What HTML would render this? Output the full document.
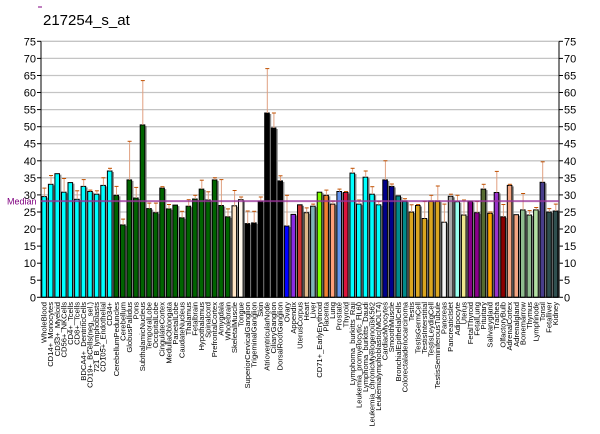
<!DOCTYPE html>
<html><head><meta charset="utf-8"><style>
html,body{margin:0;padding:0;background:#fff;width:600px;height:434px;overflow:hidden}
svg{display:block;font-family:"Liberation Sans",sans-serif}
</style></head><body>
<svg id="c" width="600" height="434" xmlns="http://www.w3.org/2000/svg">
<text x="43" y="25" font-size="15" fill="#000">217254_s_at</text>
<line x1="38" y1="7" x2="42" y2="7" stroke="#800080" stroke-width="1"/>
<g id="g"></g>
</svg>
<script>
var names=["WholeBlood","CD14+_Monocytes","CD33+_Myeloid","CD56+_NKCells","CD4+_Tcells","CD8+_Tcells","BDCA4+_DentriticCells","CD19+_BCells(neg._sel.)","721_B_lymphoblasts","CD105+_Endothelial","CD34+","CerebellumPeduncles","Cerebellum","GlobusPallidus","Pons","SubthalamicNucleus","TemporalLobe","OccipitalLobe","CingulateCortex","MedullaOblongata","ParietalLobe","CaudateNucleus","Thalamus","Fetalbrain","Hypothalamus","Spinalcord","PrefrontalCortex","Amygdala","Wholebrain","SkeletalMuscle","Tongue","SuperiorCervicalGanglion","TrigeminalGanglion","Skin","AtrioventricularNode","CiliaryGanglion","DorsalRootGanglion","Ovary","Appendix","UterusCorpus","Heart","Liver","CD71+_EarlyErythroid","Placenta","Lung","Prostate","Thyroid","Lymphoma_burkitts_Raji","Leukemia_promyelocytic_HL60","Lymphoma_burkitts_Daudi","Leukemia_chronicMyelogenousK562","Leukemialymphoblastic(MOLT4)","CardiacMyocytes","SmoothMuscle","BronchialEpithelialCells","Colorectaladenocarcinoma","Testis","TestisGermCell","TestisInterstitial","TestisLeydigCell","TestisSeminiferousTubule","Pancreas","PancreaticIslet","Adipocyte","Uterus","FetalThyroid","FetalLung","Pituitary","Salivarygland","Trachea","OlfactoryBulb","AdrenalCortex","Adrenalgland","Bonemarrow","Thymus","Lymphnode","Tonsil","Fetalliver","Kidney"];
var v=[[29.5,32],[33.1,35.7],[36.2,36.3],[30.8,34.8],[33.6,33.8],[28.7,31.2],[32.5,34.5],[31,31.4],[30.2,31.2],[32.8,35],[37,37.8],[29.9,32.5],[21.2,22.9],[34.4,45.7],[29.1,32.2],[50.5,63.5],[26,27.6],[24.8,27.6],[32,32.4],[25.9,27.2],[27,27.2],[23.3,25.2],[26.7,28.6],[28.8,29.9],[31.7,34.3],[28.5,30.9],[34.4,35],[26.9,34.5],[23.6,25.9],[26.8,31.3],[28.6,29.4],[21.6,25.3],[21.8,25.2],[28.1,29.4],[54,67],[49.6,54],[34.1,35.6],[20.9,29.9],[24.3,24.5],[27.1,27.3],[24.8,26.2],[26.7,27.3],[30.8,31],[29.9,31.4],[27.3,28.2],[31,31.7],[30.7,31],[36.4,37.8],[27.3,28.5],[35.2,37],[30.2,32.4],[27.1,28.1],[34.4,40],[32.5,33.2],[29.7,29.9],[28.2,28.9],[25,27.1],[26.9,27.2],[23.1,28.1],[28.2,29.9],[28.2,32.6],[22,27.3],[29.6,30.2],[28,29.9],[24.1,28.5],[28.1,28.3],[24.8,28.1],[31.7,33.1],[24.6,25],[30.7,36.9],[23.6,27.2],[32.8,33.1],[24.2,24.4],[25.6,30.4],[24.1,25.4],[25.6,26.3],[33.7,39.7],[25,26],[25.3,27.3]];
function col(i){i++;
if(i<=11)return"#00ffff";if(i<=29)return"#006400";if(i==30)return"#ffe4c4";if(i==31)return"#fff8ec";if(i<=37)return"#000000";
var m={38:"#0000ff",39:"#8a2be2",40:"#cd3333",41:"#deb887",42:"#7fb3b8",43:"#7cfc00",44:"#f08030",45:"#ffa07a",46:"#6495ed",47:"#dc143c",48:"#00ffff",49:"#00ffff",50:"#00ffff",51:"#00ffff",52:"#00ffff",53:"#00008b",54:"#00008b",55:"#008b8b",56:"#008b8b",57:"#daa520",58:"#daa520",59:"#daa520",60:"#daa520",61:"#daa520",62:"#f5f5f5",63:"#a9a9a9",64:"#99ffee",65:"#f0e68c",66:"#8b008b",67:"#8b008b",68:"#556b2f",69:"#ffa500",70:"#9932cc",71:"#8b0000",72:"#f4a582",73:"#f4a582",74:"#8fbc8f",75:"#8fbc8f",76:"#b4e0a4",77:"#483d8b",78:"#2f4f4f",79:"#2f4f4f"};return m[i];}
var g=document.getElementById("g"),h="";
var Y=function(a){return 297.3-a*3.413};
for(var t=0;t<=75;t+=5){var y=Y(t).toFixed(1);
h+='<line x1="41" x2="559" y1="'+y+'" y2="'+y+'" stroke="#c4c4c4" stroke-width="1.3"/>';
h+='<line x1="37" x2="41" y1="'+y+'" y2="'+y+'" stroke="#000"/><line x1="559" x2="563" y1="'+y+'" y2="'+y+'" stroke="#000"/>';
h+='<text x="36" y="'+(+y+4)+'" font-size="11" text-anchor="end">'+t+'</text><text x="564" y="'+(+y+4)+'" font-size="11">'+t+'</text>';}
var s=6.557;
for(var i=0;i<79;i++){var x=41+i*s+0.8,yt=Y(v[i][0]),ye=Y(v[i][1]),cx=x+2.6;
h+='<rect x="'+(x+1.5).toFixed(1)+'" y="'+(yt+1).toFixed(1)+'" width="5" height="'+(297.3-yt-1).toFixed(1)+'" fill="#8c8c8c"/>';
h+='<rect x="'+x.toFixed(1)+'" y="'+yt.toFixed(1)+'" width="4.6" height="'+(297.3-yt).toFixed(1)+'" fill="'+col(i)+'" stroke="#000" stroke-width="1"/>';
if(v[i][1]-v[i][0]>0.3){h+='<line x1="'+cx.toFixed(1)+'" x2="'+cx.toFixed(1)+'" y1="'+yt.toFixed(1)+'" y2="'+ye.toFixed(1)+'" stroke="#e0a080" stroke-width="1"/>';
h+='<line x1="'+(cx-2).toFixed(1)+'" x2="'+(cx+2).toFixed(1)+'" y1="'+ye.toFixed(1)+'" y2="'+ye.toFixed(1)+'" stroke="#c05000" stroke-width="1"/>';}
var lx=(41+i*s+s/2+2.4).toFixed(1);
h+='<text transform="translate('+lx+',302) rotate(-90)" font-size="7.6" text-anchor="end">'+names[i]+'</text>';}
h+='<line x1="41" x2="41" y1="'+Y(75)+'" y2="297.3" stroke="#000"/><line x1="559" x2="559" y1="'+Y(75)+'" y2="297.3" stroke="#000"/>';
h+='<line x1="41" x2="559" y1="297.3" y2="297.3" stroke="#000"/>';
var my=Y(28.2).toFixed(1);
h+='<line x1="41" x2="559" y1="'+my+'" y2="'+my+'" stroke="#993399" stroke-opacity="0.75" stroke-width="2"/>';
h+='<text x="7" y="'+(+my+3.5)+'" font-size="9" fill="#800080">Median</text>';
g.innerHTML=h;
</script>
</body></html>
